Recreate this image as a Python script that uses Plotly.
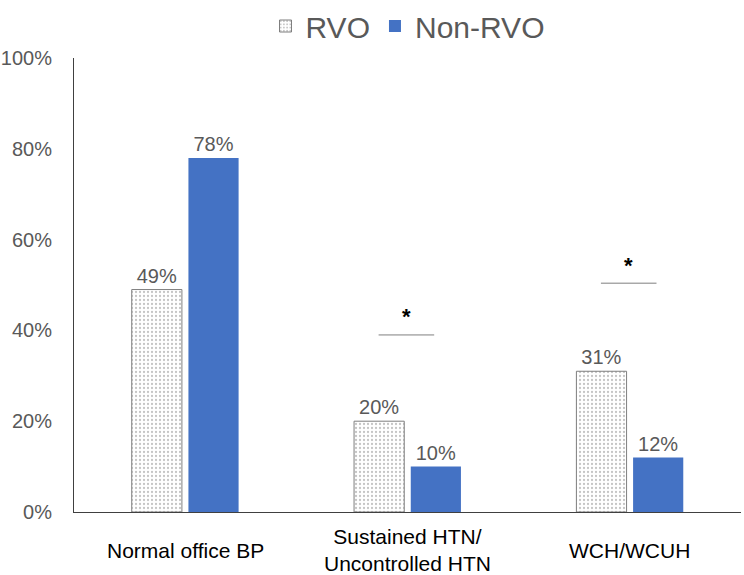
import plotly.graph_objects as go

categories = ["Normal office BP", "Sustained HTN/<br>Uncontrolled HTN", "WCH/WCUH"]
rvo = [49, 20, 31]
non_rvo = [78, 10, 12]
y_ticks = [0, 20, 40, 60, 80, 100]
y_tick_labels = ["0%", "20%", "40%", "60%", "80%", "100%"]

# significance markers: category index and bracket level (%)
sig_cats = [1, 2]
sig_levels = [39, 50.4]

fig = go.Figure()
fig.add_trace(go.Bar(
    name="RVO", x=categories, y=rvo,
    text=[f"{v}%" for v in rvo], textposition="outside",
    textfont=dict(size=20, color="#595959"),
    marker=dict(color="white", line=dict(color="#7f7f7f", width=1),
                pattern=dict(shape=".", fgcolor="#8a8a8a", bgcolor="white", size=4, solidity=0.25)),
    cliponaxis=False,
))
fig.add_trace(go.Bar(
    name="Non-RVO", x=categories, y=non_rvo,
    text=[f"{v}%" for v in non_rvo], textposition="outside",
    textfont=dict(size=20, color="#595959"),
    marker=dict(color="#4472C4", line=dict(width=0)),
    cliponaxis=False,
))

for ci, lvl in zip(sig_cats, sig_levels):
    fig.add_shape(type="line", xref="x", yref="y", x0=ci - 0.13, x1=ci + 0.12,
                  y0=lvl, y1=lvl, line=dict(color="#7f7f7f", width=1))
    fig.add_annotation(x=ci - 0.005, y=lvl, xref="x", yref="y", text="<b>*</b>",
                       showarrow=False, yshift=18, font=dict(size=22, color="black"))

# category labels as annotations, vertically centred
for ci, cat in enumerate(categories):
    fig.add_annotation(x=ci, y=-0.084, xref="x", yref="paper", text=cat,
                       showarrow=False, yanchor="middle", xanchor="center",
                       font=dict(size=21, color="black"))

fig.update_layout(
    width=744, height=575,
    margin=dict(l=74, r=3, t=58, b=63, autoexpand=False),
    paper_bgcolor="white", plot_bgcolor="white",
    font=dict(family="Liberation Sans, Arial, sans-serif"),
    barmode="group", bargap=0.49, bargroupgap=0.115,
    showlegend=True,
    legend=dict(orientation="h", x=0.5, xanchor="center", y=1.0, yanchor="top",
                yref="container", font=dict(size=30, color="#595959"),
                tracegroupgap=0),
    xaxis=dict(showline=True, linecolor="#404040", linewidth=1, ticks="",
               showticklabels=False, showgrid=False, zeroline=False),
    yaxis=dict(range=[0, 100], tickvals=y_ticks, ticktext=y_tick_labels,
               showline=True, linecolor="#404040", linewidth=1, ticks="",
               ticklabelstandoff=17,
               tickfont=dict(size=20, color="#595959"), showgrid=False, zeroline=False),
)

fig.write_html("out.html")
